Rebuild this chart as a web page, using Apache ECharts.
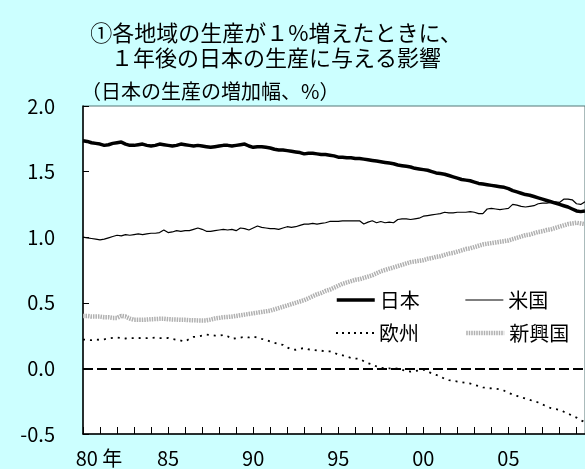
<!DOCTYPE html>
<html>
<head>
<meta charset="utf-8">
<script src="https://cdn.jsdelivr.net/npm/echarts@6/dist/echarts.min.js"></script>
<style>
  html, body { margin: 0; padding: 0; background: #ccffff; }
  #chart { width: 585px; height: 469px; }
</style>
</head>
<body>
<div id="chart"></div>
<script>
// Quarterly effect on Japan's output one year after a 1% rise in each region's output (1980Q1 - 2009Q3)
const japan = [
  1.735, 1.73, 1.72, 1.715,   1.71, 1.70, 1.705, 1.715,   1.72, 1.725, 1.71, 1.70,
  1.70, 1.705, 1.71, 1.70,    1.695, 1.70, 1.71, 1.705,   1.70, 1.695, 1.70, 1.71,
  1.705, 1.70, 1.695, 1.70,   1.695, 1.69, 1.685, 1.69,   1.695, 1.70, 1.70, 1.695,
  1.70, 1.705, 1.71, 1.695,   1.685, 1.69, 1.69, 1.685,   1.68, 1.67, 1.665, 1.665,
  1.66, 1.655, 1.65, 1.645,   1.635, 1.64, 1.64, 1.635,   1.63, 1.63, 1.625, 1.62,
  1.61, 1.61, 1.605, 1.605,   1.60, 1.60, 1.595, 1.59,    1.585, 1.58, 1.575, 1.57,
  1.565, 1.56, 1.55, 1.545,   1.54, 1.535, 1.525, 1.52,   1.515, 1.51, 1.50, 1.49,
  1.485, 1.48, 1.47, 1.46,    1.45, 1.44, 1.435, 1.43,    1.42, 1.41, 1.405, 1.40,
  1.395, 1.39, 1.385, 1.38,   1.37, 1.355, 1.345, 1.335,  1.325, 1.32, 1.31, 1.30,
  1.29, 1.28, 1.27, 1.26,     1.25, 1.24, 1.23, 1.215,    1.20, 1.195, 1.20
];
const usa = [
  1.00, 0.995, 0.99, 0.985,   0.98, 0.985, 0.995, 1.005,  1.015, 1.01, 1.02, 1.015,
  1.02, 1.025, 1.02, 1.025,   1.03, 1.03, 1.035, 1.055,   1.035, 1.04, 1.05, 1.045,
  1.05, 1.05, 1.06, 1.07,     1.06, 1.045, 1.045, 1.05,   1.055, 1.06, 1.055, 1.06,
  1.05, 1.07, 1.065, 1.055,   1.07, 1.085, 1.075, 1.07,   1.065, 1.065, 1.06, 1.07,
  1.08, 1.075, 1.08, 1.09,    1.10, 1.10, 1.105, 1.10,    1.105, 1.11, 1.12, 1.12,
  1.12, 1.125, 1.125, 1.125,  1.125, 1.125, 1.10, 1.115,  1.125, 1.11, 1.12, 1.11,
  1.115, 1.11, 1.135, 1.14,   1.14, 1.135, 1.14, 1.145,   1.16, 1.165, 1.17, 1.175,
  1.18, 1.19, 1.185, 1.185,   1.19, 1.19, 1.19, 1.195,    1.19, 1.18, 1.18, 1.215,
  1.22, 1.215, 1.21, 1.215,   1.22, 1.25, 1.245, 1.235,   1.23, 1.235, 1.24, 1.255,
  1.26, 1.26, 1.265, 1.27,    1.265, 1.29, 1.29, 1.285,   1.255, 1.25, 1.27
];
const europe = [
  0.22, 0.218, 0.215, 0.22,   0.218, 0.222, 0.228, 0.232, 0.236, 0.232, 0.228, 0.23,
  0.23, 0.232, 0.23, 0.23,    0.232, 0.235, 0.23, 0.23,   0.232, 0.225, 0.218, 0.212,
  0.205, 0.225, 0.24, 0.243,  0.25, 0.258, 0.255, 0.25,   0.25, 0.255, 0.245, 0.226,
  0.23, 0.235, 0.24, 0.236,   0.243, 0.235, 0.225, 0.218, 0.205, 0.195, 0.185, 0.18,
  0.16, 0.145, 0.142, 0.15,   0.155, 0.145, 0.142, 0.137, 0.135, 0.13, 0.13, 0.12,
  0.105, 0.10, 0.09, 0.08,    0.075, 0.073, 0.055, 0.04,  0.03, 0.015, 0.005, 0.0,
  0.0, -0.005, 0.0, -0.01,    -0.02, -0.025, -0.02, -0.015, -0.01, -0.02, -0.04, -0.05,
  -0.06, -0.08, -0.09, -0.095, -0.10, -0.105, -0.11, -0.115, -0.125, -0.135, -0.145, -0.15,
  -0.152, -0.155, -0.16, -0.17, -0.185, -0.2, -0.21, -0.22, -0.23, -0.24, -0.25, -0.26,
  -0.275, -0.29, -0.303, -0.31, -0.316, -0.33, -0.345, -0.36, -0.375, -0.395, -0.41
];
const emerging = [
  0.40, 0.40, 0.395, 0.395,   0.395, 0.39, 0.39, 0.385,   0.385, 0.40, 0.395, 0.38,
  0.37, 0.37, 0.37, 0.372,    0.375, 0.376, 0.378, 0.378, 0.375, 0.373, 0.372, 0.37,
  0.37, 0.368, 0.367, 0.366,  0.365, 0.366, 0.372, 0.38,  0.385, 0.39, 0.392, 0.395,
  0.40, 0.405, 0.41, 0.415,   0.42, 0.425, 0.43, 0.435,   0.44, 0.45, 0.46, 0.47,
  0.48, 0.49, 0.50, 0.51,     0.52, 0.535, 0.55, 0.565,   0.575, 0.59, 0.60, 0.615,
  0.63, 0.645, 0.655, 0.665,  0.675, 0.68, 0.69, 0.70,    0.71, 0.725, 0.74, 0.75,
  0.76, 0.77, 0.78, 0.79,     0.80, 0.81, 0.815, 0.82,    0.825, 0.835, 0.84, 0.85,
  0.855, 0.865, 0.875, 0.88,  0.89, 0.90, 0.91, 0.915,    0.925, 0.935, 0.945, 0.95,
  0.955, 0.96, 0.965, 0.97,   0.975, 0.985, 0.995, 1.005, 1.015, 1.02, 1.03, 1.04,
  1.045, 1.055, 1.06, 1.07,   1.08, 1.09, 1.10, 1.105,    1.11, 1.105, 1.10
];

const seriesNames = ['日本', '米国', '欧州', '新興国'];
const yTicks = { min: -0.5, max: 2.0, step: 0.5 };
const firstYear = 1980;

// Quarter labels for the category axis: 1980Q1, 1980Q2, ...
const periods = [];
for (let i = 0; i < japan.length; i++) {
  periods.push((firstYear + Math.floor(i / 4)) + 'Q' + (i % 4 + 1));
}

const jpFont = '"Noto Sans CJK JP", "Noto Sans", sans-serif';

// Line looks shared by each series and its legend sample
const lineLooks = [
  { color: '#000', width: 3.5, type: 'solid' },
  { color: '#000', width: 1.2, type: 'solid' },
  { color: '#000', width: 1.8, type: [2, 5] },
  { color: '#b0b0b0', width: 4.5, type: [1.5, 1] }
];
const legendLooks = [
  lineLooks[0],
  lineLooks[1],
  { color: '#000', width: 2, type: [2, 4] },
  lineLooks[3]
];

const chart = echarts.init(document.getElementById('chart'), null, { renderer: 'canvas' });

// Shared look of the two legend rows; the symbol is hidden so only the line sample shows
const baseLegend = {
  orient: 'horizontal',
  padding: 0,
  width: 250,
  itemWidth: 38,
  itemHeight: 14,
  itemGap: 45,
  itemStyle: { color: 'rgba(0,0,0,0)', borderWidth: 0, opacity: 0 },
  textStyle: { fontFamily: jpFont, fontSize: 20, color: '#000' },
  selectedMode: false
};
const legendItem = (i) => ({ name: seriesNames[i], lineStyle: Object.assign({}, legendLooks[i]) });

chart.setOption({
  backgroundColor: '#ccffff',
  animation: false,
  title: [
    {
      text: '①各地域の生産が１%増えたときに、\n１年後の日本の生産に与える影響',
      left: 271,
      top: 15,
      textAlign: 'center',
      textStyle: { fontFamily: jpFont, fontSize: 22, fontWeight: 'normal', color: '#000', lineHeight: 25 }
    },
    {
      text: '（日本の生産の増加幅、%）',
      left: 76,
      top: 76,
      textStyle: { fontFamily: jpFont, fontSize: 20, fontWeight: 'normal', color: '#000' }
    }
  ],
  legend: [
    Object.assign({ data: [legendItem(0), legendItem(1)], left: 335, top: 290 }, baseLegend),
    Object.assign({ data: [legendItem(2), legendItem(3)], left: 335, top: 323 }, baseLegend)
  ],
  grid: {
    left: 83, right: 0, top: 106, bottom: 35,
    show: true,
    backgroundColor: '#ffffff',
    borderColor: '#557777',
    borderWidth: 1
  },
  xAxis: {
    type: 'category',
    data: periods,
    boundaryGap: false,
    axisLine: { onZero: false, lineStyle: { color: '#000', width: 1.5 } },
    axisTick: {
      inside: true,
      length: 7,
      interval: (idx, val) => val.endsWith('Q1'),
      lineStyle: { color: '#000', width: 1 }
    },
    axisLabel: {
      interval: (idx, val) => val.endsWith('Q1') && (+val.slice(0, 4)) % 5 === 0,
      formatter: (val) => {
        const y = +val.slice(0, 4);
        const s = String(y % 100).padStart(2, '0');
        return y === firstYear ? '{first|' + s + ' 年}' : s;
      },
      margin: 14,
      fontFamily: jpFont,
      fontSize: 20,
      color: '#000',
      rich: {
        first: { fontFamily: jpFont, fontSize: 20, color: '#000', padding: [0, 0, 0, 32] }
      }
    },
    splitLine: { show: false }
  },
  yAxis: {
    type: 'value',
    min: yTicks.min,
    max: yTicks.max,
    interval: yTicks.step,
    axisLine: { show: true, onZero: false, lineStyle: { color: '#000', width: 1.5 } },
    axisTick: { show: true, inside: true, length: 6, lineStyle: { color: '#000' } },
    axisLabel: {
      formatter: (v) => v.toFixed(1),
      margin: 28,
      fontFamily: jpFont,
      fontSize: 20,
      color: '#000'
    },
    splitLine: { show: false }
  },
  series: [
    {
      name: seriesNames[0],
      type: 'line',
      data: japan,
      symbol: 'none',
      z: 5,
      lineStyle: lineLooks[0],
      itemStyle: { color: lineLooks[0].color },
      markLine: {
        silent: true,
        symbol: 'none',
        label: { show: false },
        lineStyle: { color: '#000', width: 2, type: [10, 4] },
        data: [{ yAxis: 0 }]
      }
    },
    {
      name: seriesNames[1],
      type: 'line',
      data: usa,
      symbol: 'none',
      z: 4,
      lineStyle: lineLooks[1],
      itemStyle: { color: lineLooks[1].color }
    },
    {
      name: seriesNames[2],
      type: 'line',
      data: europe,
      symbol: 'none',
      z: 3,
      lineStyle: lineLooks[2],
      itemStyle: { color: lineLooks[2].color }
    },
    {
      name: seriesNames[3],
      type: 'line',
      data: emerging,
      symbol: 'none',
      z: 2,
      lineStyle: lineLooks[3],
      itemStyle: { color: lineLooks[3].color }
    }
  ]
});
</script>
</body>
</html>
